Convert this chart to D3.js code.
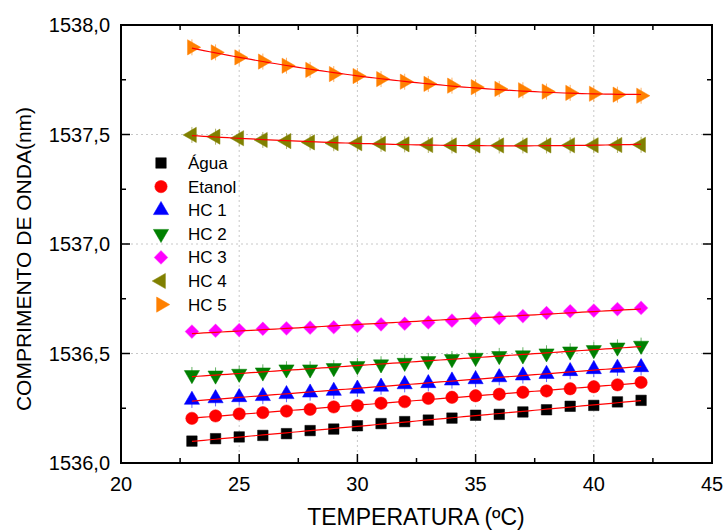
<!DOCTYPE html>
<html><head><meta charset="utf-8">
<script src="https://cdn.jsdelivr.net/npm/d3@7"></script>
<style>body{margin:0;background:#fff}svg{display:block}text{font-family:"Liberation Sans",Arial,sans-serif}</style>
</head><body><svg id="c" width="725" height="530"></svg>
<script>
const temps = [23,24,25,26,27,28,29,30,31,32,33,34,35,36,37,38,39,40,41,42];
const agua   = [1536.100,1536.111,1536.119,1536.126,1536.134,1536.148,1536.155,1536.170,1536.180,1536.189,1536.196,1536.205,1536.218,1536.222,1536.233,1536.243,1536.259,1536.263,1536.279,1536.286];
const etanol = [1536.204,1536.215,1536.224,1536.230,1536.237,1536.245,1536.256,1536.262,1536.273,1536.280,1536.295,1536.300,1536.307,1536.314,1536.323,1536.329,1536.339,1536.348,1536.357,1536.368];
const hc1    = [1536.288,1536.295,1536.300,1536.305,1536.314,1536.321,1536.329,1536.339,1536.348,1536.359,1536.364,1536.376,1536.382,1536.391,1536.399,1536.406,1536.419,1536.428,1536.434,1536.437];
const hc2    = [1536.402,1536.400,1536.408,1536.414,1536.428,1536.428,1536.434,1536.443,1536.451,1536.458,1536.466,1536.475,1536.481,1536.489,1536.492,1536.501,1536.510,1536.516,1536.528,1536.536];
const hc3    = [1536.600,1536.604,1536.607,1536.613,1536.615,1536.618,1536.620,1536.626,1536.633,1536.636,1536.642,1536.650,1536.659,1536.662,1536.671,1536.685,1536.693,1536.696,1536.703,1536.708];
const hc4    = [1537.498,1537.490,1537.483,1537.475,1537.470,1537.464,1537.460,1537.460,1537.457,1537.455,1537.452,1537.450,1537.450,1537.450,1537.450,1537.450,1537.451,1537.451,1537.452,1537.453];
const hc5    = [1537.898,1537.875,1537.852,1537.833,1537.814,1537.795,1537.776,1537.767,1537.753,1537.741,1537.731,1537.723,1537.716,1537.708,1537.702,1537.696,1537.690,1537.686,1537.682,1537.677];
const seriesNames = ["Água","Etanol","HC 1","HC 2","HC 3","HC 4","HC 5"];
const seriesColors = ["#000000","#ff0000","#0000ff","#008000","#ff00ff","#808000","#ff8000"];
const seriesShapes = ["square","circle","up","down","diamond","left","right"];
const fitOrder = [1,1,1,1,1,2,2];
const xTicks = [20,25,30,35,40,45];
const yTicks = [1536.0,1536.5,1537.0,1537.5,1538.0];
const xLabel = "TEMPERATURA (ºC)";
const yLabel = "COMPRIMENTO DE ONDA(nm)";

const allSeries = [agua,etanol,hc1,hc2,hc3,hc4,hc5];
const svg = d3.select("#c");
const L=121,R=712,T=25,B=463;
const x = d3.scaleLinear().domain([20,45]).range([L,R]);
const y = d3.scaleLinear().domain([1536,1538]).range([B,T]);
const fmt = v => d3.format(".1f")(v).replace(".",",");

// grid
const g = svg.append("g");
g.selectAll(".gx").data(xTicks.slice(1,-1)).join("line")
 .attr("x1",d=>x(d)).attr("x2",d=>x(d)).attr("y1",T).attr("y2",B)
 .attr("stroke","#c8c8c8").attr("stroke-width",1).attr("stroke-dasharray","2,3");
g.selectAll(".gy").data(yTicks.slice(1,-1)).join("line")
 .attr("y1",d=>y(d)).attr("y2",d=>y(d)).attr("x1",L).attr("x2",R)
 .attr("stroke","#c8c8c8").attr("stroke-width",1).attr("stroke-dasharray","2,3");

// fits (least squares from data)
function polyfit(xs,ys,order){
  const n=order+1;
  const A=[...Array(n)].map(()=>Array(n+1).fill(0));
  const x0=32.5;
  xs.forEach((xv,i)=>{const t=xv-x0;for(let r=0;r<n;r++){for(let c=0;c<n;c++)A[r][c]+=Math.pow(t,r+c);A[r][n]+=ys[i]*Math.pow(t,r);}});
  for(let i=0;i<n;i++){for(let k=i+1;k<n;k++){const f=A[k][i]/A[i][i];for(let j=i;j<=n;j++)A[k][j]-=f*A[i][j];}}
  const c=Array(n).fill(0);
  for(let i=n-1;i>=0;i--){let s=A[i][n];for(let j=i+1;j<n;j++)s-=A[i][j]*c[j];c[i]=s/A[i][i];}
  return xv=>{const t=xv-x0;return c.reduce((s,ci,k)=>s+ci*Math.pow(t,k),0);};
}
const fine = d3.range(temps[0],temps[temps.length-1]+0.001,0.25);
const line = d3.line().x(d=>x(d[0])).y(d=>y(d[1])).curve(d3.curveLinear);

// markers
const sym = {
  square: d3.symbol().type(d3.symbolSquare).size(110),
  circle: d3.symbol().type(d3.symbolCircle).size(120),
  diamond: d3.symbol().type(d3.symbolSquare).size(88),
  tri: d3.symbol().type(d3.symbolTriangle).size(100)
};
function drawMarker(sel,shape,color,cx,cy){
  let p, rot=0;
  if(shape==="square"||shape==="circle") p=sym[shape]();
  else if(shape==="diamond") { p=sym.diamond(); rot=45; }
  else { p=sym.tri(); rot={up:0,down:180,left:-90,right:90}[shape]; }
  sel.append("path").attr("d",p).attr("transform",`translate(${cx},${cy}) rotate(${rot})`)
    .attr("fill",color).attr("stroke",color).attr("stroke-opacity",0.5).attr("stroke-width",1);
}

allSeries.forEach((vals,si)=>{
  const col=seriesColors[si], shape=seriesShapes[si];
  const gs=svg.append("g");
  if(["up","down","left","right"].includes(shape)){
    gs.selectAll("line.e").data(temps).join("line")
      .attr("x1",d=>x(d)).attr("x2",d=>x(d))
      .attr("y1",(d,i)=>y(vals[i])-8).attr("y2",(d,i)=>y(vals[i])+8)
      .attr("stroke",col).attr("stroke-opacity",0.6).attr("stroke-width",1);
  }
  temps.forEach((t,i)=>drawMarker(gs,shape,col,x(t),y(vals[i])));
  const f=polyfit(temps,vals,fitOrder[si]);
  svg.append("path").datum(fine.map(t=>[t,f(t)])).attr("d",line)
    .attr("fill","none").attr("stroke","#ff0000").attr("stroke-width",1.2);
});

// frame & axes
const ax = svg.append("g");
const xMinor = d3.range(22.5,45,5), yMinor = d3.range(1536.25,1538,0.5);
function xt(vals,len){
  vals.forEach(v=>{
    ax.append("line").attr("x1",x(v)).attr("x2",x(v)).attr("y1",B).attr("y2",B-len).attr("stroke","#000").attr("stroke-width",1.5);
    ax.append("line").attr("x1",x(v)).attr("x2",x(v)).attr("y1",T).attr("y2",T+len).attr("stroke","#000").attr("stroke-width",1.5);
  });
}
function yt(vals,len){
  vals.forEach(v=>{
    ax.append("line").attr("y1",y(v)).attr("y2",y(v)).attr("x1",L).attr("x2",L+len).attr("stroke","#000").attr("stroke-width",1.5);
    ax.append("line").attr("y1",y(v)).attr("y2",y(v)).attr("x1",R).attr("x2",R-len).attr("stroke","#000").attr("stroke-width",1.5);
  });
}
xt(xTicks,9); xt(xMinor,5); yt(yTicks,9); yt(yMinor,5);
ax.append("rect").attr("x",L).attr("y",T).attr("width",R-L).attr("height",B-T)
  .attr("fill","none").attr("stroke","#000").attr("stroke-width",2);

ax.selectAll("text.xl").data(xTicks).join("text")
  .attr("x",d=>x(d)).attr("y",B+28).attr("text-anchor","middle")
  .attr("font-size",20).text(d=>d);
ax.selectAll("text.yl").data(yTicks).join("text")
  .attr("x",L-11).attr("y",d=>y(d)+7).attr("text-anchor","end")
  .attr("font-size",20).text(d=>fmt(d));
svg.append("text").attr("x",416).attr("y",525).attr("text-anchor","middle")
  .attr("font-size",23).text(xLabel);
svg.append("text").attr("transform",`translate(31,259) rotate(-90)`)
  .attr("text-anchor","middle").attr("font-size",21).text(yLabel);

// legend
const lg = svg.append("g");
seriesNames.forEach((n,i)=>{
  const cy=163+i*23.6;
  drawMarker(lg,seriesShapes[i],seriesColors[i],161,cy);
  lg.append("text").attr("x",188).attr("y",cy+6).attr("font-size",17).text(n);
});
</script></body></html>
